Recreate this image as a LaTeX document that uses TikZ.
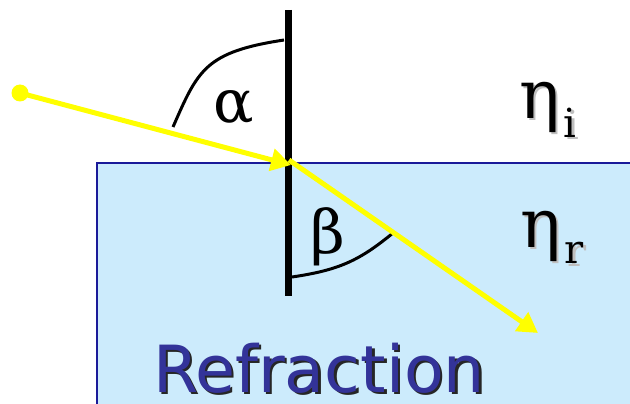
\documentclass[tikz,border=0pt]{standalone}
\usepackage{fontspec}
\setmainfont{DejaVu Serif}
\setsansfont{DejaVu Sans}
\usetikzlibrary{arrows.meta,positioning}
\definecolor{water}{HTML}{CCEBFC}
\definecolor{rim}{HTML}{1A1A99}
\definecolor{titleblue}{HTML}{333399}
\definecolor{beam}{HTML}{FFFF00}
\newcommand{\shadowed}[2]{\makebox[0pt][l]{\hspace{2.5pt}\raisebox{-2.5pt}{\color{#1}#2}}#2}

\begin{document}
\begin{tikzpicture}[x=1pt,y=-1pt,
    ray/.style={draw=beam,line width=5pt,-{Triangle[length=20pt,width=22pt,fill=beam]}},
    anglearc/.style={line width=3pt},
    greek/.style={inner sep=0pt,font=\fontsize{60}{64}\selectfont},
    medium/.style={inner sep=0pt,anchor=base west,font=\fontsize{68}{72}\selectfont}]
  \clip (0,0) rectangle (630,404);
  % lower medium
  \draw[draw=rim,line width=1.5pt,fill=water] (97,163) rectangle (660,440);
  \node[inner sep=0pt,anchor=base,font=\sffamily\fontsize{65}{70}\selectfont,text=titleblue]
    (title) at (319,392) {\shadowed{black!85}{Refraction}};
  % normal
  \coordinate (ntop) at (288,10);
  \coordinate (nbot) at (288,296);
  \draw[line width=7pt] (ntop) -- (nbot);
  % angles
  \draw[anglearc] (173,127) .. controls (198,70) and (205,52) .. (284,40);
  \draw[anglearc] (292,277) .. controls (340,270) and (360,260) .. (393,233);
  \node[greek] (alpha) at (234,108) {α};
  \node[greek] (beta) at (328,237) {β};
  \node[medium] (etai) at (519,118)
    {\shadowed{black!25}{η}\hspace{4pt}{\fontsize{40}{44}\selectfont\raisebox{-19pt}{\shadowed{black!25}{i}}}};
  \node[medium] (etar) at (520,247)
    {\shadowed{black!25}{η}\hspace{4pt}{\fontsize{40}{44}\selectfont\raisebox{-17pt}{\shadowed{black!25}{r}}}};
  % rays
  \node[circle,fill=beam,inner sep=0pt,minimum size=17pt] (src) at (20,93) {};
  \coordinate (hit) at (291,165);
  \coordinate (out) at (538,333);
  \draw[ray] (src.center) -- (hit);
  \draw[ray] (289,160) -- (out);
\end{tikzpicture}
\end{document}
